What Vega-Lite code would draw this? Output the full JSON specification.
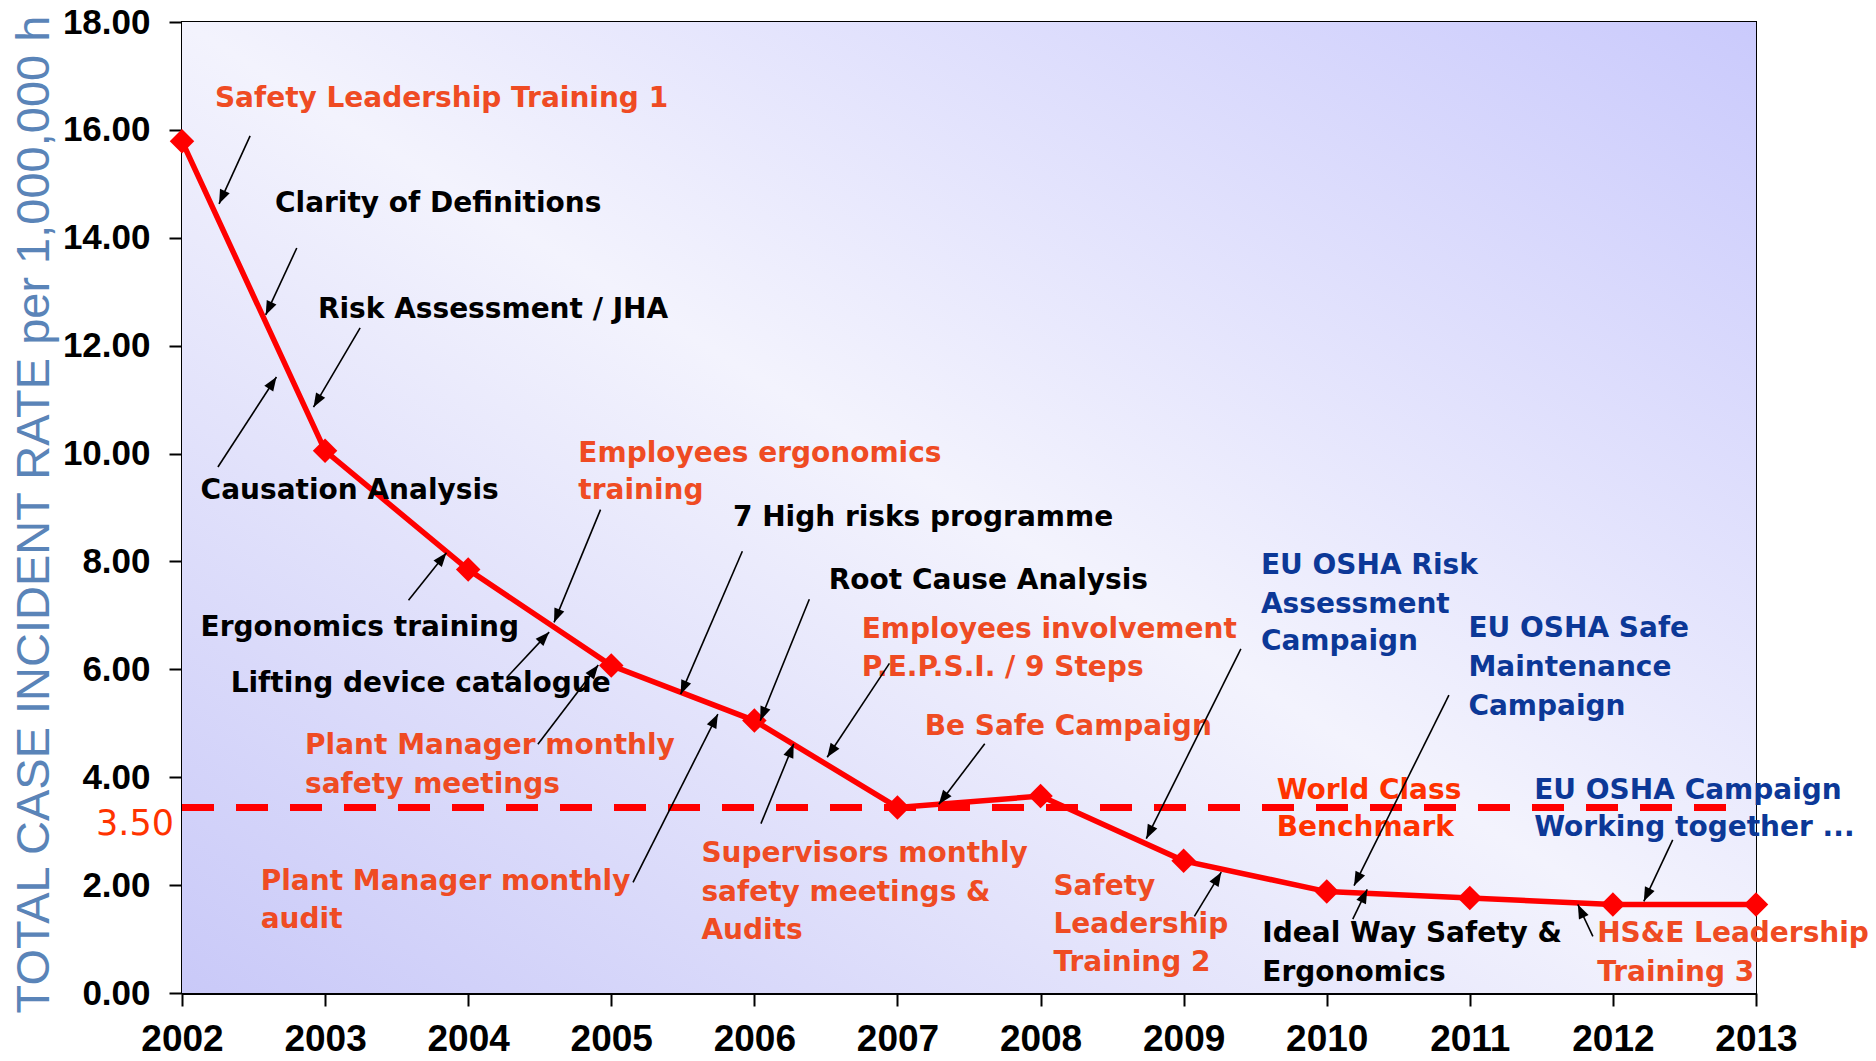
{
  "$schema": "https://vega.github.io/schema/vega-lite/v6.json",
  "width": 1574,
  "height": 971,
  "autosize": {"type": "none"},
  "padding": {"left": 182, "top": 22, "right": 120, "bottom": 68},
  "background": "white",
  "config": {
    "view": {"stroke": "black", "strokeWidth": 2},
    "axis": {
      "grid": false, "zindex": 1,
      "labelFont": "Liberation Sans", "labelFontWeight": "bold", "labelColor": "black",
      "labelOverlap": false, "labelFlush": false,
      "tickColor": "black", "tickSize": 13, "tickWidth": 2,
      "domainColor": "black", "domainWidth": 3
    }
  },
  "datasets": {
    "rate": [
      {"year": 2002, "rate": 15.79},
      {"year": 2003, "rate": 10.05},
      {"year": 2004, "rate": 7.85},
      {"year": 2005, "rate": 6.07},
      {"year": 2006, "rate": 5.05},
      {"year": 2007, "rate": 3.44},
      {"year": 2008, "rate": 3.65},
      {"year": 2009, "rate": 2.45},
      {"year": 2010, "rate": 1.88},
      {"year": 2011, "rate": 1.76},
      {"year": 2012, "rate": 1.64},
      {"year": 2013, "rate": 1.64}
    ],
    "benchmark": [{"x": 2002, "x2": 2012.82, "y": 3.44}],
    "labels": [
      {"t": "Safety Leadership Training 1", "x": 2002.23, "y": 16.58, "g": "Training"},
      {"t": "Clarity of Definitions", "x": 2002.65, "y": 14.63, "g": "Internal"},
      {"t": "Risk Assessment / JHA", "x": 2002.95, "y": 12.66, "g": "Internal"},
      {"t": "Causation Analysis", "x": 2002.13, "y": 9.31, "g": "Internal"},
      {"t": "Employees ergonomics", "x": 2004.77, "y": 10.0, "g": "Training"},
      {"t": "training", "x": 2004.77, "y": 9.31, "g": "Training"},
      {"t": "7 High risks programme", "x": 2005.85, "y": 8.8, "g": "Internal"},
      {"t": "Root Cause Analysis", "x": 2006.52, "y": 7.63, "g": "Internal"},
      {"t": "Employees involvement", "x": 2006.75, "y": 6.72, "g": "Training"},
      {"t": "P.E.P.S.I. / 9 Steps", "x": 2006.75, "y": 6.03, "g": "Training"},
      {"t": "EU OSHA Risk", "x": 2009.54, "y": 7.91, "g": "EU OSHA"},
      {"t": "Assessment", "x": 2009.54, "y": 7.2, "g": "EU OSHA"},
      {"t": "Campaign", "x": 2009.54, "y": 6.5, "g": "EU OSHA"},
      {"t": "EU OSHA Safe", "x": 2010.99, "y": 6.74, "g": "EU OSHA"},
      {"t": "Maintenance", "x": 2010.99, "y": 6.03, "g": "EU OSHA"},
      {"t": "Campaign", "x": 2010.99, "y": 5.3, "g": "EU OSHA"},
      {"t": "Ergonomics training", "x": 2002.13, "y": 6.76, "g": "Internal"},
      {"t": "Lifting device catalogue", "x": 2002.34, "y": 5.72, "g": "Internal"},
      {"t": "Plant Manager monthly", "x": 2002.86, "y": 4.57, "g": "Training"},
      {"t": "safety meetings", "x": 2002.86, "y": 3.86, "g": "Training"},
      {"t": "Be Safe Campaign", "x": 2007.19, "y": 4.94, "g": "Training"},
      {"t": "World Class", "x": 2009.65, "y": 3.75, "g": "Benchmark"},
      {"t": "Benchmark", "x": 2009.65, "y": 3.06, "g": "Benchmark"},
      {"t": "EU OSHA Campaign", "x": 2011.45, "y": 3.75, "g": "EU OSHA"},
      {"t": "Working together ...", "x": 2011.45, "y": 3.06, "g": "EU OSHA"},
      {"t": "Plant Manager monthly", "x": 2002.55, "y": 2.06, "g": "Training"},
      {"t": "audit", "x": 2002.55, "y": 1.35, "g": "Training"},
      {"t": "Supervisors monthly", "x": 2005.63, "y": 2.57, "g": "Training"},
      {"t": "safety meetings &", "x": 2005.63, "y": 1.86, "g": "Training"},
      {"t": "Audits", "x": 2005.63, "y": 1.15, "g": "Training"},
      {"t": "Safety", "x": 2008.09, "y": 1.97, "g": "Training"},
      {"t": "Leadership", "x": 2008.09, "y": 1.26, "g": "Training"},
      {"t": "Training 2", "x": 2008.09, "y": 0.55, "g": "Training"},
      {"t": "Ideal Way Safety &", "x": 2009.55, "y": 1.09, "g": "Internal"},
      {"t": "Ergonomics", "x": 2009.55, "y": 0.38, "g": "Internal"},
      {"t": "HS&E Leadership", "x": 2011.89, "y": 1.09, "g": "Training"},
      {"t": "Training 3", "x": 2011.89, "y": 0.38, "g": "Training"}
    ],
    "arrows": [
      {"x": 2002.259, "y": 14.63, "x2": 2002.476, "y2": 15.89, "angle": -155.5},
      {"x": 2002.585, "y": 12.57, "x2": 2002.802, "y2": 13.81, "angle": -155.1},
      {"x": 2002.919, "y": 10.86, "x2": 2003.245, "y2": 12.33, "angle": -149.4},
      {"x": 2002.66, "y": 11.42, "x2": 2002.251, "y2": 9.75, "angle": 33.2},
      {"x": 2003.848, "y": 8.16, "x2": 2003.583, "y2": 7.28, "angle": 38.7},
      {"x": 2004.6, "y": 6.87, "x2": 2004.925, "y2": 8.96, "angle": -157.7},
      {"x": 2004.566, "y": 6.69, "x2": 2004.27, "y2": 5.85, "angle": 43.4},
      {"x": 2004.909, "y": 6.08, "x2": 2004.487, "y2": 4.61, "angle": 37.2},
      {"x": 2005.485, "y": 5.54, "x2": 2005.916, "y2": 8.19, "angle": -156.8},
      {"x": 2006.041, "y": 5.05, "x2": 2006.384, "y2": 7.3, "angle": -158},
      {"x": 2005.745, "y": 5.17, "x2": 2005.152, "y2": 2.05, "angle": 26.7},
      {"x": 2006.275, "y": 4.62, "x2": 2006.046, "y2": 3.14, "angle": 22.3},
      {"x": 2006.509, "y": 4.37, "x2": 2006.944, "y2": 6.11, "angle": -146},
      {"x": 2007.289, "y": 3.5, "x2": 2007.61, "y2": 4.62, "angle": -142.6},
      {"x": 2008.739, "y": 2.86, "x2": 2009.4, "y2": 6.38, "angle": -153.5},
      {"x": 2009.263, "y": 2.24, "x2": 2009.075, "y2": 1.42, "angle": 31.2},
      {"x": 2010.191, "y": 1.99, "x2": 2010.854, "y2": 5.52, "angle": -153.6},
      {"x": 2010.283, "y": 1.92, "x2": 2010.182, "y2": 1.37, "angle": 25.6},
      {"x": 2011.755, "y": 1.64, "x2": 2011.86, "y2": 1.05, "angle": -25},
      {"x": 2012.216, "y": 1.7, "x2": 2012.418, "y2": 2.84, "angle": -154.8}
    ]
  },
  "layer": [
    {
      "data": {"values": [{}]},
      "mark": {
        "type": "rect",
        "fill": {
          "gradient": "linear",
          "x1": 0, "y1": 1, "x2": 1, "y2": 0,
          "stops": [
            {"offset": 0, "color": "#c9c9f8"},
            {"offset": 0.5, "color": "#f3f3fd"},
            {"offset": 1, "color": "#cacafc"}
          ]
        }
      },
      "encoding": {
        "x": {
          "datum": 2002, "type": "quantitative",
          "scale": {"domain": [2002, 2013], "nice": false, "zero": false},
          "axis": {
            "values": [2002, 2003, 2004, 2005, 2006, 2007, 2008, 2009, 2010, 2011, 2012, 2013],
            "format": "d", "title": null, "labelFontSize": 37, "labelPadding": 15
          }
        },
        "x2": {"datum": 2013},
        "y": {
          "datum": 0, "type": "quantitative",
          "scale": {"domain": [0, 18], "nice": false},
          "axis": {
            "values": [0, 2, 4, 6, 8, 10, 12, 14, 16, 18],
            "format": ".2f",
            "title": "TOTAL CASE INCIDENT RATE per 1,000,000 h",
            "titleFont": "Liberation Sans", "titleFontWeight": "normal", "titleFontSize": 47, "titleColor": "#5a84b8",
            "titleX": -134, "titleY": 492, "titleBaseline": "alphabetic", "titleAlign": "center", "titleAngle": -90,
            "labelFontSize": 35, "labelPadding": 19
          }
        },
        "y2": {"datum": 18}
      }
    },
    {
      "data": {"name": "benchmark"},
      "mark": {"type": "rule", "color": "#ff0000", "strokeWidth": 7, "strokeDash": [32, 22]},
      "encoding": {
        "x": {"field": "x", "type": "quantitative"},
        "x2": {"field": "x2"},
        "y": {"field": "y", "type": "quantitative"}
      }
    },
    {
      "data": {"name": "rate"},
      "mark": {"type": "line", "color": "#ff0000", "strokeWidth": 5.5},
      "encoding": {
        "x": {"field": "year", "type": "quantitative"},
        "y": {"field": "rate", "type": "quantitative"}
      }
    },
    {
      "data": {"name": "rate"},
      "mark": {"type": "point", "shape": "diamond", "filled": true, "size": 600, "color": "#ff0000", "opacity": 1},
      "encoding": {
        "x": {"field": "year", "type": "quantitative"},
        "y": {"field": "rate", "type": "quantitative"}
      }
    },
    {
      "data": {"name": "labels"},
      "mark": {"type": "text", "align": "left", "baseline": "middle", "font": "DejaVu Sans", "fontWeight": "bold", "fontSize": 28},
      "encoding": {
        "x": {"field": "x", "type": "quantitative"},
        "y": {"field": "y", "type": "quantitative"},
        "text": {"field": "t"},
        "color": {
          "field": "g", "type": "nominal", "legend": null,
          "scale": {"domain": ["Internal", "Training", "EU OSHA", "Benchmark"], "range": ["#000000", "#ef4b23", "#0c3897", "#ff3300"]}
        }
      }
    },
    {
      "data": {"name": "arrows"},
      "mark": {"type": "rule", "color": "black", "strokeWidth": 1.6},
      "encoding": {
        "x": {"field": "x", "type": "quantitative"},
        "y": {"field": "y", "type": "quantitative"},
        "x2": {"field": "x2"},
        "y2": {"field": "y2"}
      }
    },
    {
      "data": {"name": "arrows"},
      "mark": {"type": "point", "shape": "M0,0L-0.38,1L0.38,1Z", "filled": true, "size": 784, "color": "black", "opacity": 1},
      "encoding": {
        "x": {"field": "x", "type": "quantitative"},
        "y": {"field": "y", "type": "quantitative"},
        "angle": {"field": "angle", "type": "quantitative", "scale": null}
      }
    },
    {
      "data": {"values": [{"label": "3.50", "x": 2002, "y": 3.13}]},
      "mark": {"type": "text", "align": "right", "baseline": "middle", "dx": -8, "font": "DejaVu Sans", "fontSize": 35, "color": "#ff3300"},
      "encoding": {
        "x": {"field": "x", "type": "quantitative"},
        "y": {"field": "y", "type": "quantitative"},
        "text": {"field": "label"}
      }
    }
  ]
}
